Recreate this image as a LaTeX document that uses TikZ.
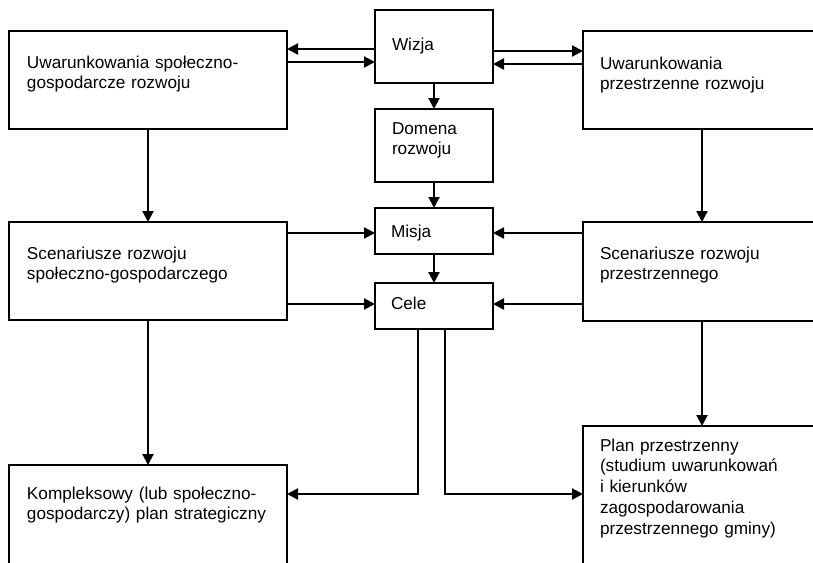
\documentclass[tikz,border=0pt]{standalone}
\usepackage{fontspec}
\setmainfont{Liberation Sans}
\usetikzlibrary{arrows.meta}
\begin{document}
\begin{tikzpicture}[x=1pt,y=-1pt,
  box/.style={draw,line width=1.5pt,rectangle,inner sep=0pt,outer sep=0pt,anchor=north west},
  lbl/.style={anchor=base west,inner sep=0pt,outer sep=0pt,align=left,text width=240pt,font=\fontsize{17.2}{20.8}\selectfont},
  arr/.style={line width=2.1pt,-{Triangle[length=11pt,width=11pt]}}]
\useasboundingbox (0,0) rectangle (813,562);
\clip (0,0) rectangle (813,562);
% boxes
\node[box,minimum width=278pt,minimum height=98pt] (tl) at (9,31) {};
\node[box,minimum width=118pt,minimum height=73pt] (wiz) at (375,10) {};
\node[box,minimum width=238pt,minimum height=98pt] (tr) at (583,31) {};
\node[box,minimum width=118pt,minimum height=73pt] (dom) at (375,109) {};
\node[box,minimum width=118pt,minimum height=46pt] (mis) at (375,208) {};
\node[box,minimum width=118pt,minimum height=46pt] (cel) at (375,283) {};
\node[box,minimum width=278pt,minimum height=98pt] (ml) at (9,222) {};
\node[box,minimum width=238pt,minimum height=99pt] (mr) at (583,222) {};
\node[box,minimum width=278pt,minimum height=140pt] (bl) at (9,465) {};
\node[box,minimum width=238pt,minimum height=180pt] (br) at (583,426) {};
% texts
\node[lbl] (t1) at (27,68) {Uwarunkowania społeczno-\\gospodarcze rozwoju};
\node[lbl] (t2) at (392,50) {Wizja};
\node[lbl] (t3) at (600,69) {Uwarunkowania\\przestrzenne rozwoju};
\node[lbl] (t4) at (392,134) {Domena\\rozwoju};
\node[lbl] (t5) at (391,237) {Misja};
\node[lbl] (t6) at (391,309) {Cele};
\node[lbl] (t7) at (27,259) {Scenariusze rozwoju\\społeczno-gospodarczego};
\node[lbl] (t8) at (600,259) {Scenariusze rozwoju\\przestrzennego};
\node[lbl] (t9) at (27,499) {Kompleksowy (lub społeczno-\\gospodarczy) plan strategiczny};
\node[lbl] (t10) at (600,451) {Plan przestrzenny\\(studium uwarunkowań\\i kierunków\\zagospodarowania\\przestrzennego gminy)};
% connectors
\draw[arr] (wiz.west |- 0,49) -- (tl.east |- 0,49);
\draw[arr] (tl.east |- 0,62) -- (wiz.west |- 0,62);
\draw[arr] (wiz.east |- 0,51) -- (tr.west |- 0,51);
\draw[arr] (tr.west |- 0,64) -- (wiz.east |- 0,64);
\draw[arr] (wiz.south) -- (dom.north);
\draw[arr] (dom.south) -- (mis.north);
\draw[arr] (mis.south) -- (cel.north);
\draw[arr] (tl.south) -- (ml.north);
\draw[arr] (tr.south) -- (mr.north);
\draw[arr] (ml.east |- 0,233) -- (mis.west |- 0,233);
\draw[arr] (ml.east |- 0,304) -- (cel.west |- 0,304);
\draw[arr] (mr.west |- 0,233) -- (mis.east |- 0,233);
\draw[arr] (mr.west |- 0,304) -- (cel.east |- 0,304);
\draw[arr] (ml.south) -- (bl.north);
\draw[arr] (mr.south) -- (br.north);
\draw[arr] (cel.south -| 418,0) |- (bl.east |- 0,494);
\draw[arr] (cel.south -| 445,0) |- (br.west |- 0,494);
\end{tikzpicture}
\end{document}
